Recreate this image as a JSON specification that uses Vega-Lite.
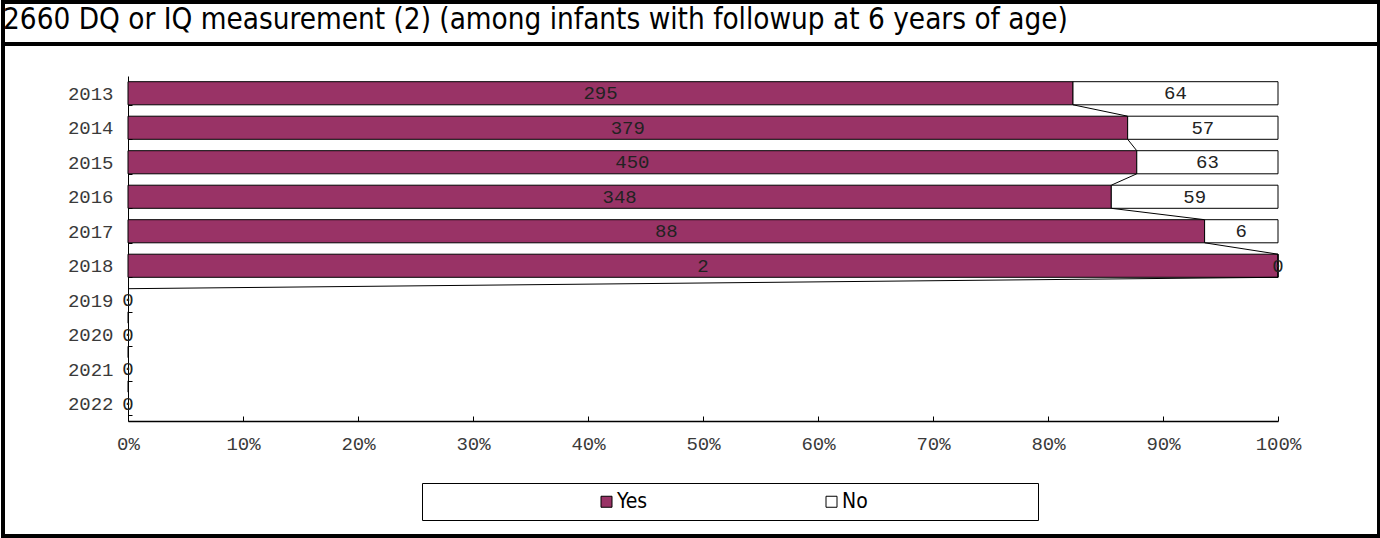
{
  "$schema": "https://vega.github.io/schema/vega-lite/v6.json",
  "padding": 0,
  "background": "white",
  "spacing": 0,
  "bounds": "flush",
  "datasets": {
    "counts": [
      {"year": 2013, "cat": "Yes", "count": 295}, {"year": 2013, "cat": "No", "count": 64},
      {"year": 2014, "cat": "Yes", "count": 379}, {"year": 2014, "cat": "No", "count": 57},
      {"year": 2015, "cat": "Yes", "count": 450}, {"year": 2015, "cat": "No", "count": 63},
      {"year": 2016, "cat": "Yes", "count": 348}, {"year": 2016, "cat": "No", "count": 59},
      {"year": 2017, "cat": "Yes", "count": 88}, {"year": 2017, "cat": "No", "count": 6},
      {"year": 2018, "cat": "Yes", "count": 2}, {"year": 2018, "cat": "No", "count": 0},
      {"year": 2019, "cat": "Yes", "count": 0}, {"year": 2019, "cat": "No", "count": 0},
      {"year": 2020, "cat": "Yes", "count": 0}, {"year": 2020, "cat": "No", "count": 0},
      {"year": 2021, "cat": "Yes", "count": 0}, {"year": 2021, "cat": "No", "count": 0},
      {"year": 2022, "cat": "Yes", "count": 0}, {"year": 2022, "cat": "No", "count": 0}
    ]
  },
  "config": {
    "font": "DejaVu Sans Condensed"
  },
  "vconcat": [
    {
      "width": 1376,
      "height": 42,
      "view": {"stroke": "black", "strokeWidth": 4, "fill": "white"},
      "title": {
        "text": "2660 DQ or IQ measurement (2) (among infants with followup at 6 years of age)",
        "anchor": "start",
        "frame": "group",
        "orient": "top",
        "offset": -56,
        "dx": 0,
        "baseline": "alphabetic",
        "font": "DejaVu Sans Condensed",
        "fontSize": 29.4,
        "fontWeight": "normal",
        "color": "black"
      },
      "data": {"values": [{}]},
      "mark": {"type": "point", "opacity": 0}
    },
    {
      "width": 1376,
      "height": 492,
      "view": {"stroke": "black", "strokeWidth": 4, "fill": "white"},
      "data": {"name": "counts"},
      "encoding": {
        "y": {
          "field": "year",
          "type": "ordinal",
          "scale": {"range": [32, 377], "paddingInner": 0.33, "paddingOuter": 0.165},
          "axis": {
            "title": null,
            "offset": -125,
            "tickBand": "extent",
            "tickSize": -4,
            "tickColor": "black",
            "domainColor": "black",
            "domainWidth": 1,
            "labelFont": "Liberation Mono",
            "labelFontSize": 19,
            "labelColor": "#3a3a3a",
            "labelPadding": 19,
            "labelAngle": 0
          }
        }
      },
      "layer": [
        {
          "mark": {"type": "bar", "stroke": "black", "strokeWidth": 1},
          "encoding": {
            "x": {
              "field": "count",
              "type": "quantitative",
              "stack": "normalize",
              "scale": {"domain": [0, 1], "range": [125, 1275], "nice": false, "zero": true},
              "axis": {
                "title": null,
                "offset": -115,
                "values": [0, 0.1, 0.2, 0.3, 0.4, 0.5, 0.6, 0.7, 0.8, 0.9, 1],
                "format": ".0%",
                "tickSize": -5,
                "tickColor": "black",
                "domainColor": "black",
                "domainWidth": 1.5,
                "grid": false,
                "labelFlush": false,
                "labelFont": "Liberation Mono",
                "labelFontSize": 19,
                "labelColor": "#3a3a3a",
                "labelPadding": 18
              }
            },
            "color": {
              "field": "cat",
              "type": "nominal",
              "scale": {"domain": ["Yes", "No"], "range": ["#993366", "#ffffff"]},
              "legend": {
                "orient": "none",
                "legendX": 419,
                "legendY": 481,
                "direction": "horizontal",
                "title": " ",
                "titleOrient": "left",
                "titleFontSize": 10,
                "titlePadding": 166,
                "strokeColor": "black",
                "fillColor": "white",
                "padding": 8,
                "symbolType": "square",
                "symbolSize": 121,
                "symbolStrokeColor": "black",
                "symbolStrokeWidth": 1,
                "labelFont": "DejaVu Sans Condensed",
                "labelFontSize": 21,
                "labelColor": "black",
                "labelOffset": 0,
                "labelLimit": 400,
                "columnPadding": 173,
                "labelExpr": "datum.label === 'No' ? 'No\u00a0\u00a0\u00a0\u00a0\u00a0\u00a0\u00a0\u00a0\u00a0\u00a0\u00a0\u00a0\u00a0\u00a0\u00a0\u00a0\u00a0\u00a0\u00a0\u00a0\u00a0\u00a0\u00a0\u00a0\u00a0\u00a0\u00a0\u200b' : datum.label"
              }
            },
            "order": {"field": "cat", "sort": "descending"}
          }
        },
        {
          "transform": [
            {"stack": "count", "groupby": ["year"], "offset": "normalize", "sort": [{"field": "cat", "order": "descending"}], "as": ["p0", "p1"]},
            {"filter": "datum.cat === 'Yes'"},
            {"window": [{"op": "lead", "field": "p1", "as": "p1next"}, {"op": "lead", "field": "year", "as": "yearnext"}], "sort": [{"field": "year", "order": "ascending"}]},
            {"filter": "datum.yearnext != null"}
          ],
          "mark": {"type": "rule", "color": "black", "strokeWidth": 1, "invalid": "show"},
          "encoding": {
            "x": {"field": "p1", "type": "quantitative"},
            "x2": {"field": "p1next"},
            "y": {"field": "year", "type": "ordinal", "bandPosition": 1},
            "y2": {"field": "yearnext", "bandPosition": 0}
          }
        },
        {
          "transform": [
            {"joinaggregate": [{"op": "sum", "field": "count", "as": "total"}], "groupby": ["year"]},
            {"filter": "datum.total > 0"}
          ],
          "mark": {"type": "text", "font": "Liberation Mono", "fontSize": 19, "color": "#222222", "baseline": "middle", "align": "center"},
          "encoding": {
            "x": {"field": "count", "type": "quantitative", "stack": "normalize", "bandPosition": 0.5},
            "detail": {"field": "cat"},
            "order": {"field": "cat", "sort": "descending"},
            "text": {"field": "count", "type": "quantitative"}
          }
        },
        {
          "transform": [
            {"joinaggregate": [{"op": "sum", "field": "count", "as": "total"}], "groupby": ["year"]},
            {"filter": "datum.total === 0 && datum.cat === 'Yes'"}
          ],
          "mark": {"type": "text", "font": "Liberation Mono", "fontSize": 19, "color": "#222222", "baseline": "middle", "align": "center"},
          "encoding": {
            "x": {"datum": 0, "type": "quantitative"},
            "text": {"field": "count", "type": "quantitative"}
          }
        }
      ]
    }
  ]
}
